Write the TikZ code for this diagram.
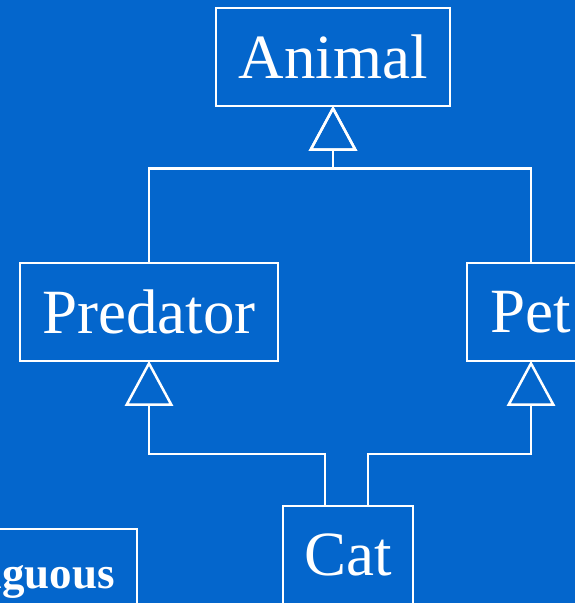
\documentclass[tikz,border=0pt]{standalone}
\usepackage{fontspec}
\setmainfont{Liberation Serif}
\usetikzlibrary{arrows.meta}
\definecolor{slideblue}{RGB}{4,102,204}
\tikzset{
  cls/.style={draw=white, line width=2.5bp, text=white,
    font=\fontsize{63bp}{70bp}\selectfont,
    minimum height=98bp, inner sep=0pt, anchor=center},
  note/.style={cls, font=\fontsize{45bp}{50bp}\selectfont\bfseries},
  inh/.style={draw=white, line width=2.5bp, shorten >=-1.5bp,
    -{Triangle[open, length=45bp, width=48bp]}},
}
\begin{document}
\begin{tikzpicture}[x=1bp, y=-1bp]
  \useasboundingbox (0,0) rectangle (575,603);
  \clip (0,0) rectangle (575,603);
  \fill[slideblue] (0,0) rectangle (575,603);

  % class boxes
  \node[cls, minimum width=234bp] (animal) at (333,57) {Animal};
  \node[cls, minimum width=258bp] (pred) at (149,312) {Predator};
  \node[cls, minimum width=128bp] (pet) at (531,312) {Pet};
  \node[cls, minimum width=130bp] (cat) at (348,555) {Cat};
  \node[note, minimum width=264bp] (amb) at (5,578) {Ambiguous};

  % inheritance connectors
  \draw[inh] (pred.north) -- ++(0,-93) -| (animal.south);
  \draw[inh] (pet.north) -- ++(0,-93) -| (animal.south);
  \draw[inh] ([xshift=-23bp]cat.north) -- ++(0,-51) -| (pred.south);
  \draw[inh] ([xshift=20bp]cat.north) -- ++(0,-51) -| (pet.south);
\end{tikzpicture}
\end{document}
